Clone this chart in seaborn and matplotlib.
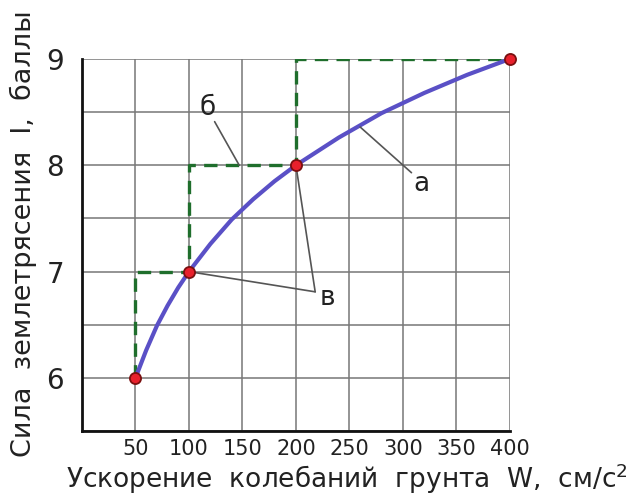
import numpy as np
import pandas as pd
import matplotlib
matplotlib.use("Agg")
import matplotlib.pyplot as plt
import seaborn as sns

# точки шкалы (ускорение W, см/с2 -> балл I)
w_pts = [50, 100, 200, 400]
i_pts = [6, 7, 8, 9]

# кривая "а"
w_curve = [50, 60, 70, 80, 90, 100, 120, 140, 160, 180, 200, 240, 280, 320, 360, 400]
i_curve = [6.0, 6.26, 6.49, 6.68, 6.85, 7.0, 7.26, 7.49, 7.68, 7.85, 8.0, 8.26, 8.49, 8.68, 8.85, 9.0]

x_ticks = [50, 100, 150, 200, 250, 300, 350, 400]
y_ticks = [6, 7, 8, 9]

sns.set_style("white")
plt.rcParams['font.family'] = ['DejaVu Sans']

fig = plt.figure(figsize=(6.33, 4.95), dpi=100)
ax = fig.add_axes([0.1295, 0.129, 0.676, 0.752])

curve = pd.DataFrame({"W": w_curve, "I": i_curve})
sns.lineplot(data=curve, x="W", y="I", ax=ax, color="#5a50c6", lw=3, zorder=3)

# ступенчатая шкала "б"
ax.plot(w_pts, i_pts, drawstyle="steps-pre", color="#1f6e2c", lw=2.4,
        ls=(0, (4, 2.5)), zorder=2)

ax.plot(w_pts, i_pts, "o", ms=8, mfc="#e8202c", mec="#7a1010", mew=1.3,
        zorder=4, clip_on=False)

ax.set_xlim(0, 400)
ax.set_ylim(5.5, 9)
ax.set_xticks(x_ticks)
ax.set_xticks(np.arange(0, 401, 50), minor=True)
ax.set_yticks(y_ticks)
ax.set_yticks(np.arange(5.5, 9.01, 0.5), minor=True)
ax.grid(which="both", color="#777777", lw=1.1)
ax.tick_params(which="both", length=0)
ax.tick_params(axis="x", labelsize=15, pad=6, colors="#222222")
ax.tick_params(axis="y", labelsize=20, pad=13, colors="#222222")

for s in ["top", "right"]:
    ax.spines[s].set_visible(False)
for s in ["left", "bottom"]:
    ax.spines[s].set_color("#111111")
    ax.spines[s].set_linewidth(2)

ax.set_xlabel("Ускорение  колебаний  грунта  W,  см/с$^2$", fontsize=19,
              color="#222222")
ax.xaxis.set_label_coords(0.62, -0.128)
ax.xaxis.label.set_va("center")
ax.set_ylabel("Сила  землетрясения  I,  баллы", fontsize=19.5, color="#222222")
ax.yaxis.set_label_coords(-0.138, 0.53)
ax.yaxis.label.set_va("center")

lead = dict(arrowstyle="-", color="#555555", lw=1.2, shrinkA=0, shrinkB=0)
ax.annotate("", xy=(260, 8.36), xytext=(308, 7.93), arrowprops=lead)
ax.text(317, 7.82, "а", fontsize=19, ha="center", va="center", color="#222222")
ax.annotate("", xy=(147, 8.0), xytext=(124, 8.41), arrowprops=lead)
ax.text(117, 8.54, "б", fontsize=19, ha="center", va="center", color="#222222")
ax.annotate("", xy=(100, 7.0), xytext=(218, 6.81), arrowprops=lead)
ax.annotate("", xy=(200, 8.0), xytext=(218, 6.81), arrowprops=lead)
ax.text(229, 6.75, "в", fontsize=19, ha="center", va="center", color="#222222")

fig.savefig("out.png", dpi=100)
